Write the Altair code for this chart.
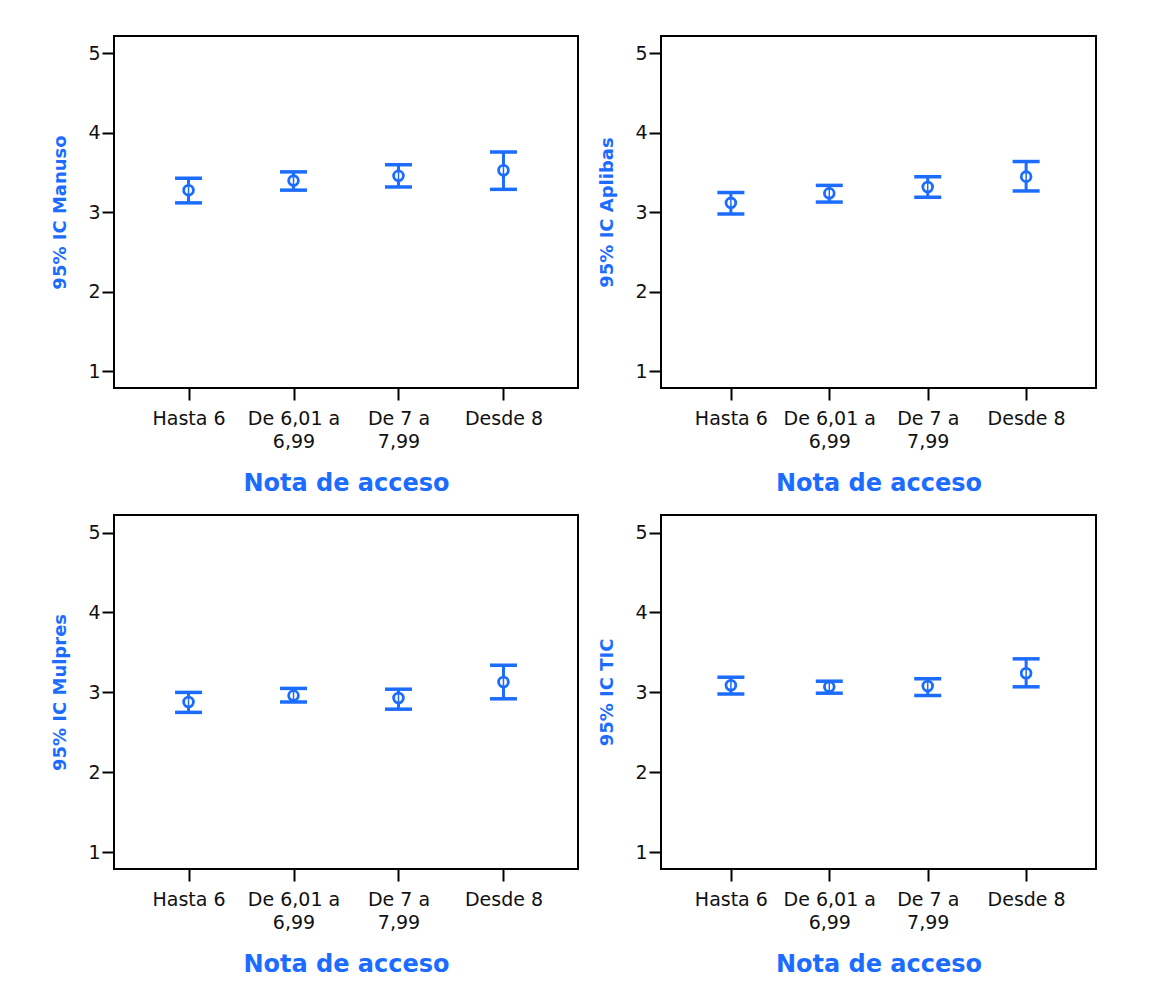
import altair as alt
import pandas as pd

categories = ["Hasta 6", "De 6,01 a 6,99", "De 7 a 7,99", "Desde 8"]

manuso_mean = [3.28, 3.40, 3.46, 3.53]
manuso_lo = [3.12, 3.28, 3.32, 3.29]
manuso_hi = [3.43, 3.51, 3.60, 3.76]

aplibas_mean = [3.12, 3.24, 3.32, 3.45]
aplibas_lo = [2.98, 3.13, 3.19, 3.27]
aplibas_hi = [3.25, 3.34, 3.45, 3.64]

mulpres_mean = [2.88, 2.96, 2.93, 3.13]
mulpres_lo = [2.75, 2.88, 2.79, 2.92]
mulpres_hi = [3.00, 3.05, 3.04, 3.34]

tic_mean = [3.09, 3.07, 3.08, 3.24]
tic_lo = [2.98, 2.99, 2.96, 3.07]
tic_hi = [3.19, 3.14, 3.17, 3.42]

y_ticks = [1, 2, 3, 4, 5]

BLUE = "#1c6dff"
FONT = "DejaVu Sans"


def panel(means, los, his, ytitle, w, h):
    df = pd.DataFrame({"cat": categories, "mean": means, "lo": los, "hi": his})
    x = alt.X("cat:N", sort=categories, title="Nota de acceso",
              scale=alt.Scale(type="point", padding=0.71),
              axis=alt.Axis(labelAngle=0, tickSize=12, tickWidth=2, tickColor="black",
                            domain=False, labelFont=FONT, labelFontSize=19,
                            labelColor="#111111", labelPadding=9, labelLineHeight=23,
                            labelExpr="split(replace(datum.value, / a /, ' a|'), '|')",
                            titleFont=FONT, titleFontSize=24, titleFontWeight="bold",
                            titleColor=BLUE, titlePadding=20))
    yscale = alt.Scale(domain=[0.79, 5.22], nice=False, zero=False)
    yaxis = alt.Axis(values=y_ticks, format="d", grid=False, tickSize=12, tickWidth=2,
                     tickColor="black", domain=False, labelFont=FONT,
                     labelFontSize=19, labelColor="#111111", labelPadding=2,
                     titleFont=FONT, titleFontSize=18, titleFontWeight="bold",
                     titleColor=BLUE, titlePadding=18)
    base = alt.Chart(df)
    rule = base.mark_rule(color=BLUE, strokeWidth=3).encode(
        x=x, y=alt.Y("lo:Q", scale=yscale, axis=yaxis, title=ytitle), y2="hi:Q")
    cap_lo = base.mark_tick(color=BLUE, size=27, thickness=3.5, opacity=1).encode(
        x=alt.X("cat:N", sort=categories), y=alt.Y("lo:Q"))
    cap_hi = base.mark_tick(color=BLUE, size=27, thickness=3.5, opacity=1).encode(
        x=alt.X("cat:N", sort=categories), y=alt.Y("hi:Q"))
    pt = base.mark_point(shape="circle", filled=True, fill="white", stroke=BLUE,
                         strokeWidth=2.8, size=95, opacity=1).encode(
        x=alt.X("cat:N", sort=categories), y=alt.Y("mean:Q"))
    pt2 = base.mark_rule(color=BLUE, strokeWidth=1.5).encode(
        x=alt.X("cat:N", sort=categories), y=alt.Y("lo:Q"), y2="hi:Q")
    return alt.layer(rule, cap_lo, cap_hi, pt, pt2).properties(width=w, height=h)


top = alt.hconcat(
    panel(manuso_mean, manuso_lo, manuso_hi, "95% IC Manuso", 464, 352),
    panel(aplibas_mean, aplibas_lo, aplibas_hi, "95% IC Aplibas", 435, 352),
    spacing=18,
)
bottom = alt.hconcat(
    panel(mulpres_mean, mulpres_lo, mulpres_hi, "95% IC Mulpres", 464, 354),
    panel(tic_mean, tic_lo, tic_hi, "95% IC TIC", 435, 354),
    spacing=18,
)

chart = alt.vconcat(top, bottom, spacing=18).properties(
    padding={"left": 42, "top": 27, "right": 10, "bottom": 10},
    background="white",
).configure_view(stroke="black", strokeWidth=2)

chart.save("out.html", embed_options={"renderer": "svg", "actions": False})
